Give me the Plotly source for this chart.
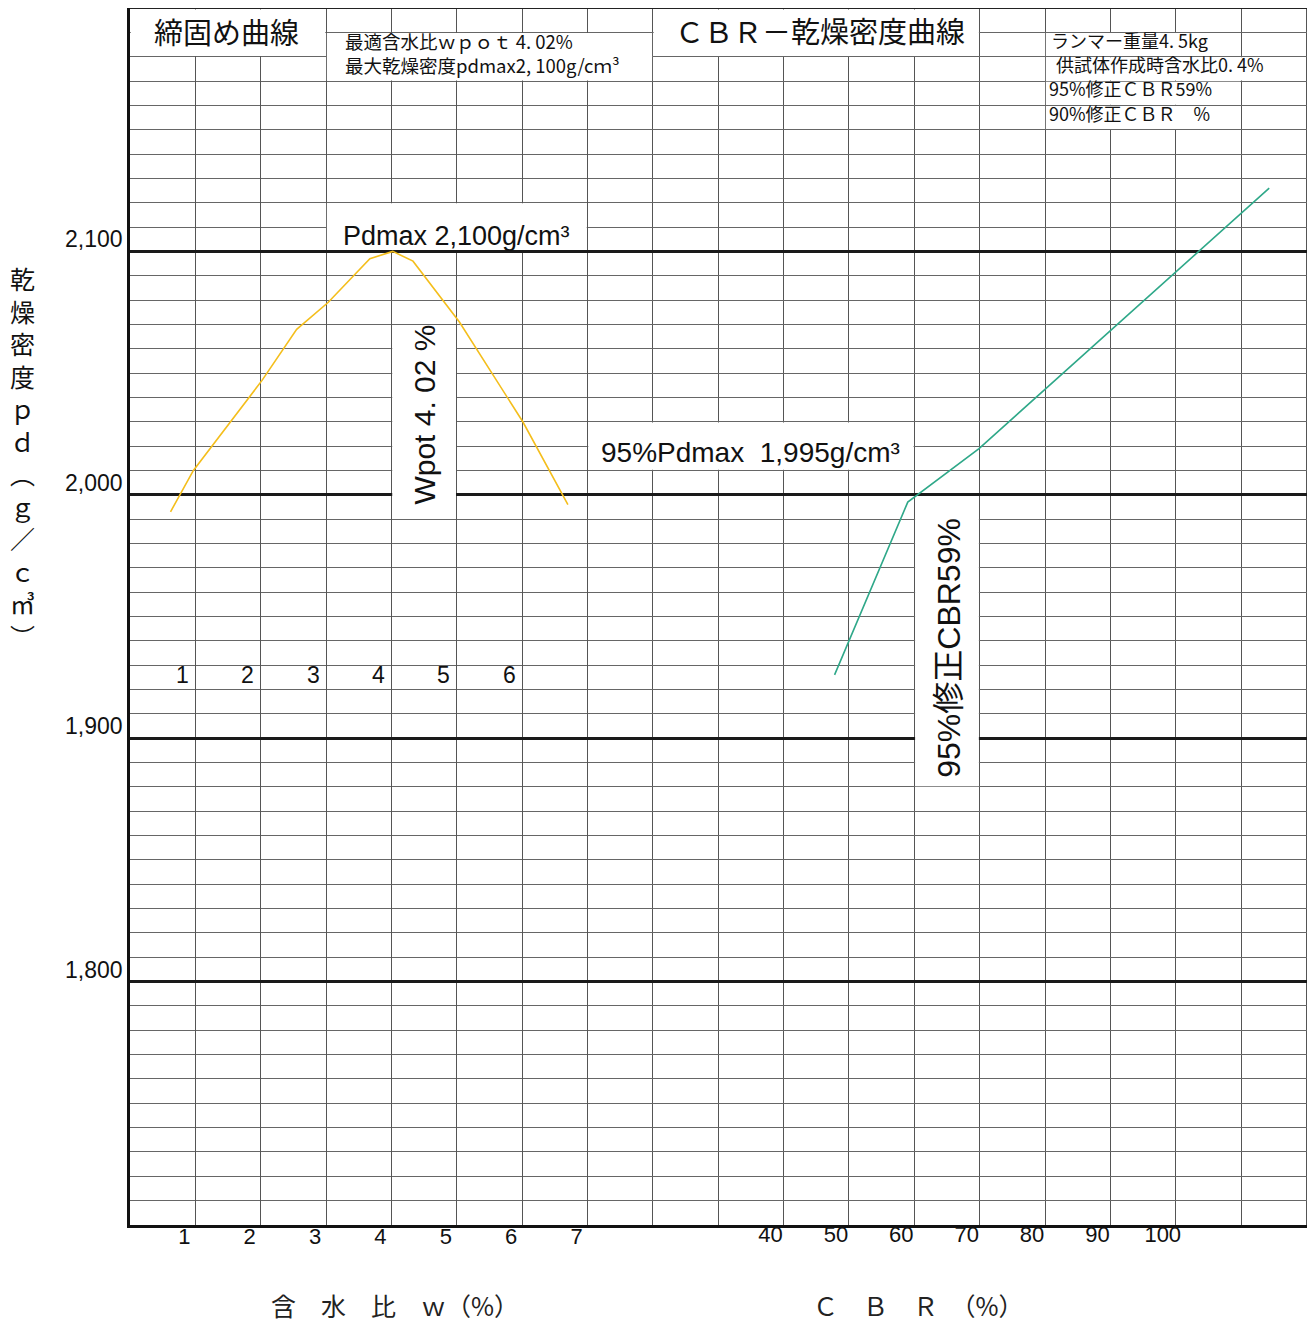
import plotly.graph_objects as go

# ---- data ----
water_content = [0.62, 0.97, 2.02, 2.55, 3.03, 3.67, 4.02, 4.33, 5.04, 6.01, 6.70]
dry_density_w = [1993, 2010, 2047, 2068, 2079, 2097, 2100, 2096, 2071, 2030, 1996]

cbr_values = [47.8, 59.0, 69.9, 114.3]
dry_density_cbr = [1926, 1997, 2019, 2126]

w_ticks = [1, 2, 3, 4, 5, 6, 7]
cbr_ticks = [40, 50, 60, 70, 80, 90, 100]
y_ticks = [1800, 1900, 2000, 2100]
y_ticktext = ["1,800", "1,900", "2,000", "2,100"]
point_labels = ["1", "2", "3", "4", "5", "6"]
point_label_pos = [1, 2, 3, 4, 5, 6]

# ---- styling ----
JP = "Noto Sans CJK JP"
NARROW = "Liberation Sans Narrow, Arial Narrow, Liberation Sans, Arial"
SANS = "Liberation Sans, Arial, DejaVu Sans"
ORANGE = "#F4BE1C"
GREEN = "#2FA889"
XMAX = 18.1
W, H = 1307, 1317          # page body has an 8px margin
ML, MR, MT, MB = 122, 2, 0, 100
PW, PH = W - ML - MR, H - MT - MB

fig = go.Figure()
fig.add_trace(go.Scatter(x=water_content, y=dry_density_w, mode="lines",
                         line=dict(color=ORANGE, width=1.6), xaxis="x", yaxis="y",
                         showlegend=False, hoverinfo="skip"))
fig.add_trace(go.Scatter(x=cbr_values, y=dry_density_cbr, mode="lines",
                         line=dict(color=GREEN, width=1.6), xaxis="x2", yaxis="y",
                         showlegend=False, hoverinfo="skip"))

# white label boxes on the graph paper (x in grid units, y in density)
boxes = [(0, 3, 2180, 2200), (3, 8, 2170, 2190), (8, 13, 2180, 2200),
         (14, 17, 2180, 2190), (14, 18, 2170, 2180), (14, 17, 2160, 2170),
         (14, 17, 2150, 2160), (3, 7, 2100, 2120), (4, 5, 1990, 2070),
         (7, 12, 2010, 2030), (12, 13, 1880, 2000)]
shapes = []
for x0, x1, y0, y1 in boxes:
    dy0 = 0.6 if y0 % 100 == 0 else 0.25
    dy1 = 0.6 if y1 % 100 == 0 else 0.25
    shapes.append(dict(type="rect", xref="x", yref="y", layer="between",
                       x0=x0 + 0.012, x1=x1 - 0.012, y0=y0 + dy0, y1=y1 - dy1,
                       fillcolor="white", line=dict(width=0)))
# top border
shapes.append(dict(type="line", xref="x", yref="y", x0=0, x1=XMAX, y0=2200, y1=2200,
                   line=dict(color="#222", width=2), layer="above"))

annotations = []
def ann(text, x, y, size, family=JP, xanchor="center", textangle=0, **kw):
    annotations.append(dict(text=text, x=x, y=y, xref="x", yref="y", showarrow=False,
                            font=dict(family=family, size=size, color="#111"),
                            xanchor=xanchor, yanchor="middle", textangle=textangle, **kw))

ROW = dict(borderpad=0)
ann("締固め曲線", 1.48, 2190.5, 29, borderpad=0)
ann("最適含水比ｗｐｏｔ 4. 02%", 3.28, 2186.5, 18.5, xanchor="left", **ROW)
ann("最大乾燥密度pdmax2, 100g/cｍ³", 3.28, 2176.5, 18.5, xanchor="left", **ROW)
ann("ＣＢＲ－乾燥密度曲線", 10.55, 2191, 29, borderpad=0)
ann("ランマー重量4. 5kg", 14.08, 2187, 18, xanchor="left", **ROW)
ann("供試体作成時含水比0. 4%", 14.15, 2177, 18, xanchor="left", **ROW)
ann("95%修正ＣＢＲ59%", 14.05, 2167, 18, xanchor="left", **ROW)
ann("90%修正ＣＢＲ　%", 14.05, 2157, 18, xanchor="left", **ROW)
ann("Pdmax 2,100g/cm³", 5.0, 2106.5, 27, family=SANS)
ann("Wpot 4. 02 %", 4.5, 2033, 30, family=SANS, textangle=-90)
ann("95%Pdmax  1,995g/cm³", 9.5, 2017.5, 28, family=SANS)
ann("95%修正CBR59%", 12.54, 1937, 32, family=SANS + ", " + JP, textangle=-90)
for lbl, pos in zip(point_labels, point_label_pos):
    ann(lbl, pos, 1926, 23, family=NARROW, xshift=-13)

# axis titles
annotations.append(dict(text="乾<br>燥<br>密<br>度<br>ｐ<br>ｄ<br>︵<br>ｇ<br>／<br>ｃ<br>㎥<br>︶",
                        xref="paper", yref="paper", x=(22 - 130) / PW, y=(1225 - 457) / PH,
                        showarrow=False, font=dict(family=JP, size=25, color="#111"),
                        xanchor="center", yanchor="middle"))
annotations.append(dict(text="含　水　比　ｗ（%）", xref="paper", yref="paper",
                        x=(395 - 130) / PW, y=-(1305 - 1225) / PH, showarrow=False,
                        font=dict(family=JP, size=25, color="#222"),
                        xanchor="center", yanchor="middle"))
annotations.append(dict(text="Ｃ　Ｂ　Ｒ　（%）", xref="paper", yref="paper",
                        x=(918 - 130) / PW, y=-(1305 - 1225) / PH, showarrow=False,
                        font=dict(family=JP, size=25, color="#222"),
                        xanchor="center", yanchor="middle"))

fig.update_layout(
    width=W, height=H,
    margin=dict(l=ML, r=MR, t=MT, b=MB),
    plot_bgcolor="white", paper_bgcolor="white",
    shapes=shapes, annotations=annotations,
    xaxis=dict(range=[0, XMAX], tickmode="array", tickvals=w_ticks,
               ticktext=[str(v) for v in w_ticks], ticks="", ticklabelshift=-11,
               ticklabelstandoff=-10,
               tickfont=dict(family=NARROW, size=22, color="#111"),
               showgrid=True, gridcolor="#555", gridwidth=1,
               minor=dict(tick0=0, dtick=1, showgrid=True, gridcolor="#555", gridwidth=1),
               showline=True, linecolor="#111", linewidth=2.5, zeroline=False),
    xaxis2=dict(range=[10 * (0 - 6), 10 * (XMAX - 6)], overlaying="x", side="bottom",
                anchor="y", tickmode="array", tickvals=cbr_ticks,
                ticktext=[str(v) for v in cbr_ticks], ticks="", ticklabelshift=-13,
                ticklabelstandoff=-6,
                tickfont=dict(family=NARROW, size=22, color="#111"),
                showgrid=False, zeroline=False, showline=False),
    yaxis=dict(range=[1700, 2200], tickmode="array", tickvals=y_ticks,
               ticktext=y_ticktext, ticks="", ticklabelshift=-12,
               tickfont=dict(family=NARROW, size=23, color="#111"),
               showgrid=True, gridcolor="#1a1a1a", gridwidth=2.5,
               minor=dict(tick0=1700, dtick=10, showgrid=True, gridcolor="#666", gridwidth=1),
               showline=True, linecolor="#111", linewidth=2.5, zeroline=False),
    showlegend=False,
)

fig.write_html("out.html")
